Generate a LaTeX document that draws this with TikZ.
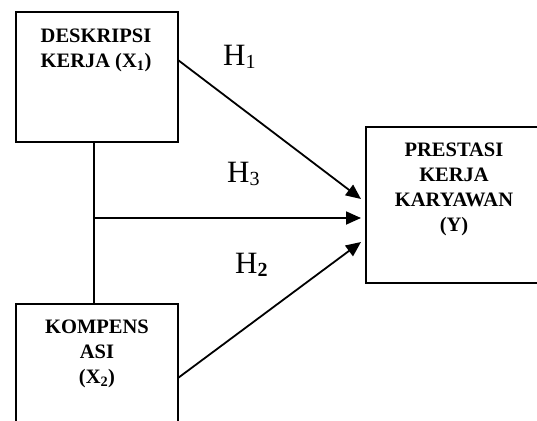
\documentclass[tikz,border=0pt]{standalone}
\usepackage{fontspec}
\setmainfont{Liberation Serif}
\usetikzlibrary{arrows.meta}
\tikzset{
  boxnode/.style={draw, line width=1.9pt, inner sep=0pt},
  boxtext/.style={font=\bfseries\fontsize{20.5}{25}\selectfont, align=center, inner sep=0pt, anchor=north},
  hlabel/.style={font=\fontsize{31}{31}\selectfont, inner sep=0pt, anchor=base west},
  conn/.style={line width=1.8pt},
  arr/.style={line width=1.8pt, -{Triangle[length=15pt,width=13pt]}}
}
\newcommand{\hsub}[1]{\raisebox{-3pt}{\fontsize{20}{20}\selectfont #1}}
\begin{document}
\begin{tikzpicture}[x=1pt,y=-1pt]
\useasboundingbox (0,0) rectangle (537,420);
\clip (0,0) rectangle (537,420);
% boxes
\node[boxnode, minimum width=162pt, minimum height=130pt] (X1) at (97,77) {};
\node[boxnode, minimum width=162pt, minimum height=126pt] (X2) at (97,367) {};
\node[boxnode, minimum width=180pt, minimum height=156pt] (Y) at (456,205) {};
% texts
\node[boxtext] (t1) at (96,29) {DESKRIPSI\\KERJA (X\textsubscript{1})};
\node[boxtext] (t2) at (97,320) {KOMPENS\\ASI\\(X\textsubscript{2})};
\node[boxtext] (tY) at (454,142.5) {PRESTASI\\KERJA\\KARYAWAN\\(Y)};
% labels
\node[hlabel] (h1) at (223,65) {H\hsub{1}};
\node[hlabel] (h3) at (227,182) {H\hsub{3}};
\node[hlabel] (h2) at (235,273) {H\hsub{\textbf{2}}};
% connectors
\coordinate (top) at (94,142);
\coordinate (bot) at (94,304);
\coordinate (j) at (94,218);
\coordinate (s1) at (178,60);
\coordinate (s2) at (178,378);
\coordinate (e1) at (361,199);
\coordinate (e3) at (361,218);
\coordinate (e2) at (361,242);
\draw[conn] (top) -- (bot);
\draw[arr] (j) -- (e3);
\draw[arr] (s1) -- (e1);
\draw[arr] (s2) -- (e2);
\end{tikzpicture}
\end{document}
